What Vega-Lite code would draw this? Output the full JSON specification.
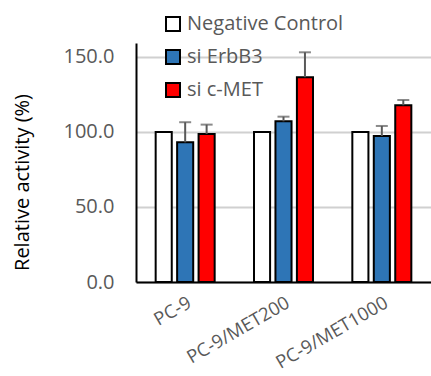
{
  "$schema": "https://vega.github.io/schema/vega-lite/v6.json",
  "autosize": {"type": "none"},
  "width": 295,
  "height": 239,
  "padding": {"left": 136, "top": 43, "right": 0, "bottom": 94},
  "background": "white",
  "config": {"view": {"stroke": null}, "font": "Open Sans"},
  "data": {"values": [
    {"cell": "PC-9", "group": "Negative Control", "value": 100, "upper": null},
    {"cell": "PC-9", "group": "si ErbB3", "value": 93.1, "upper": 106.5},
    {"cell": "PC-9", "group": "si c-MET", "value": 98.7, "upper": 104.9},
    {"cell": "PC-9/MET200", "group": "Negative Control", "value": 100, "upper": null},
    {"cell": "PC-9/MET200", "group": "si ErbB3", "value": 107.1, "upper": 110.2},
    {"cell": "PC-9/MET200", "group": "si c-MET", "value": 136.5, "upper": 153.1},
    {"cell": "PC-9/MET1000", "group": "Negative Control", "value": 100, "upper": null},
    {"cell": "PC-9/MET1000", "group": "si ErbB3", "value": 97.3, "upper": 104.0},
    {"cell": "PC-9/MET1000", "group": "si c-MET", "value": 117.8, "upper": 121.3}
  ]},
  "encoding": {
    "x": {"field": "cell", "type": "nominal", "sort": ["PC-9", "PC-9/MET200", "PC-9/MET1000"],
      "scale": {"paddingInner": 0.4, "paddingOuter": 0.2},
      "axis": {"title": null, "labelAngle": -30, "labelAlign": "right", "labelBaseline": "top", "labelPadding": 11, "labelFontSize": 18.5, "labelColor": "#595959", "ticks": false, "domainColor": "black", "domainWidth": 2}},
    "xOffset": {"field": "group", "type": "nominal", "sort": ["Negative Control", "si ErbB3", "si c-MET"], "scale": {"paddingInner": 0.25, "paddingOuter": 0}}
  },
  "layer": [
    {
      "mark": {"type": "bar", "stroke": "black", "strokeWidth": 2},
      "encoding": {
        "y": {"field": "value", "type": "quantitative",
          "scale": {"domain": [0, 159.3], "nice": false},
          "axis": {"values": [0, 50, 100, 150], "format": ".1f", "title": "Relative activity (%)", "titleFontSize": 20, "titleFontWeight": "normal", "titleColor": "black", "titleX": -114, "titleY": 139, "titleAngle": -90, "titleAlign": "center", "titleBaseline": "middle", "labelFontSize": 20, "labelColor": "#595959", "labelPadding": 22, "ticks": false, "domainColor": "black", "domainWidth": 2, "gridColor": "#d0d0d0", "gridWidth": 2}},
        "fill": {"field": "group", "type": "nominal", "sort": ["Negative Control", "si ErbB3", "si c-MET"],
          "scale": {"domain": ["Negative Control", "si ErbB3", "si c-MET"], "range": ["#ffffff", "#2e75b6", "#ff0000"]},
          "legend": {"title": null, "orient": "none", "legendX": 27, "legendY": -29, "symbolType": "square", "symbolSize": 196, "symbolStrokeColor": "black", "symbolStrokeWidth": 2, "labelFontSize": 20, "labelColor": "#595959", "rowPadding": 11, "labelOffset": 4, "padding": 0}}
      }
    },
    {
      "transform": [{"filter": "datum.upper != null"}],
      "mark": {"type": "rule", "color": "#595959", "strokeWidth": 2},
      "encoding": {"y": {"field": "value", "type": "quantitative"}, "y2": {"field": "upper"}}
    },
    {
      "transform": [{"filter": "datum.upper != null"}],
      "mark": {"type": "tick", "color": "#595959", "thickness": 2, "size": 12, "orient": "horizontal"},
      "encoding": {"y": {"field": "upper", "type": "quantitative"}}
    }
  ]
}
